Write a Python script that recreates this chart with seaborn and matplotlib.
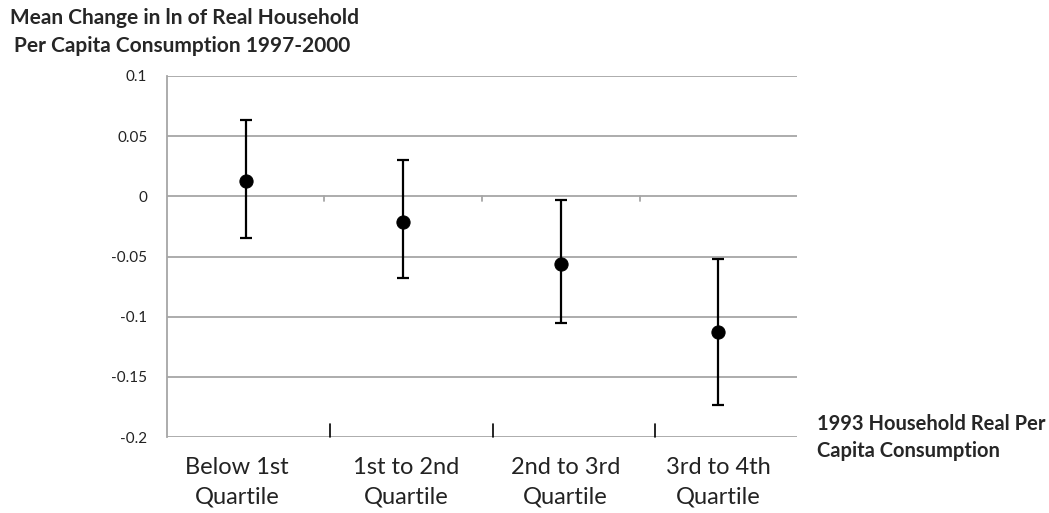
import matplotlib
matplotlib.use("Agg")
import matplotlib.pyplot as plt
import matplotlib.transforms as mtransforms
import seaborn as sns
import pandas as pd

# degerler
categories = ["Below 1st\nQuartile", "1st to 2nd\nQuartile", "2nd to 3rd\nQuartile", "3rd to 4th\nQuartile"]
means = [0.013, -0.021, -0.056, -0.113]
upper = [0.063, 0.030, -0.003, -0.052]
lower = [-0.035, -0.068, -0.105, -0.173]
y_ticks = [0.1, 0.05, 0, -0.05, -0.1, -0.15, -0.2]
y_tick_labels = ["0.1", "0.05", "0", "-0.05", "-0.1", "-0.15", "-0.2"]

df = pd.DataFrame({"group": categories, "mean": means, "upper": upper, "lower": lower})

sns.set_style("white")
plt.rcParams["font.family"] = ["Lato", "DejaVu Sans"]

fig = plt.figure(figsize=(10.49, 5.13), dpi=100)
ax = fig.add_axes([0.159, 0.148, 0.601, 0.704])

grid_col = "#a6a6a6"
for yv in y_ticks:
    ax.axhline(yv, color=grid_col, lw=1.3, zorder=0)

yerr = [df["mean"] - df["lower"], df["upper"] - df["mean"]]
ax.errorbar(df["group"], df["mean"], yerr=yerr, fmt="none", ecolor="black",
            elinewidth=1.6, capsize=4.5, capthick=1.6, zorder=2)
sns.scatterplot(data=df, x="group", y="mean", color="black", s=90,
                edgecolor="black", zorder=3, ax=ax)

ax.set_xlim(-0.5, 3.5)
ax.set_ylim(-0.2, 0.1)
ax.set_yticks(y_ticks)
ax.set_yticklabels(y_tick_labels, fontsize=11, color="#222222")
ax.tick_params(axis="y", length=6, color=grid_col, width=1.3, pad=8)
ax.set_xticks([])
ax.set_xlabel("")
ax.set_ylabel("")

for s in ["top", "right", "bottom"]:
    ax.spines[s].set_visible(False)
ax.spines["left"].set_color(grid_col)
ax.spines["left"].set_linewidth(1.3)

# 0 cizgisindeki kucuk gri isaretler
for b in [0.5, 1.5, 2.5]:
    ax.plot([b, b], [0, -0.004], color=grid_col, lw=1.3, zorder=1)
# alttaki siyah isaretler
for b in [0.535, 1.57, 2.6]:
    ax.plot([b, b], [-0.2, -0.189], color="black", lw=1.2, zorder=1, clip_on=False)

# kategori etiketleri (elle yerlestirilmis kutular gibi)
label_x = [-0.056, 1.02, 2.03, 3.0]
trans = mtransforms.blended_transform_factory(ax.transData, fig.transFigure)
for lx, lab in zip(label_x, categories):
    line1, line2 = lab.split("\n")
    ax.text(lx, 1 - 467 / 513, line1, transform=trans, ha="center", va="center",
            fontsize=17, color="#222222")
    ax.text(lx, 1 - 497 / 513, line2, transform=trans, ha="center", va="center",
            fontsize=17, color="#222222")

fig.text(10 / 1049, 1 - 18 / 513, "Mean Change in ln of Real Household", fontsize=15,
         fontweight="bold", ha="left", va="center")
fig.text(14 / 1049, 1 - 46 / 513, "Per Capita Consumption 1997-2000", fontsize=15,
         fontweight="bold", ha="left", va="center")
fig.text(817 / 1049, 1 - 424 / 513, "1993 Household Real Per", fontsize=14.5,
         fontweight="bold", ha="left", va="center")
fig.text(817 / 1049, 1 - 451 / 513, "Capita Consumption", fontsize=14.5,
         fontweight="bold", ha="left", va="center")

fig.savefig("out.png", dpi=100, facecolor="white")
